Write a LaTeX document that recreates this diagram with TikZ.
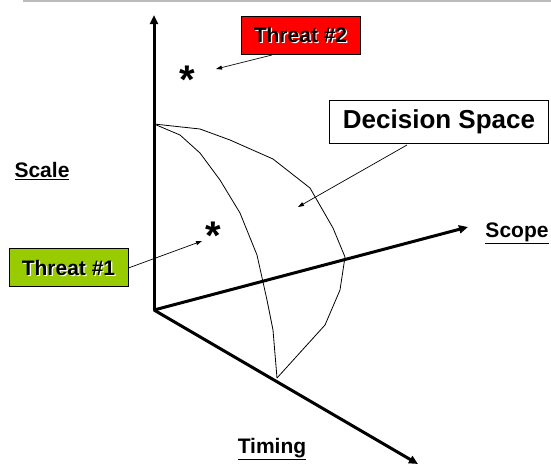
\documentclass[tikz,border=0pt]{standalone}
\usepackage{fontspec}
\setmainfont{Liberation Sans}
\usetikzlibrary{arrows.meta}
\definecolor{threatgreen}{HTML}{99CC00}
\definecolor{topgray}{HTML}{BBBBBB}
\begin{document}
\begin{tikzpicture}[x=1pt,y=-1pt,
  axis/.style={line width=3pt,-{Triangle[length=9pt,width=8pt]}},
  leader/.style={line width=0.7pt,-{Triangle[length=6pt,width=4pt]}},
  surf/.style={line width=0.8pt,line join=round},
  axlabel/.style={font=\fontsize{21}{24}\selectfont\bfseries,inner sep=0pt},
  threatbox/.style={draw=black,line width=0.8pt,minimum width=119pt,minimum height=38pt,inner sep=0pt},
  threattext/.style={font=\fontsize{21}{24}\selectfont\bfseries,inner sep=0pt},
  star/.style={font=\fontsize{40}{40}\selectfont\bfseries,inner sep=0pt}
]
\useasboundingbox (0,0) rectangle (551,466);
% top rule
\draw[topgray,line width=2pt] (23,1) -- (551,1);
% axes
\coordinate (O) at (154,310);
\coordinate (scaletip) at (154,15);
\coordinate (scopetip) at (468,227);
\coordinate (timingtip) at (418,464);
\draw[axis,line cap=round] (O) -- (scaletip);
\draw[axis] (O) -- (scopetip);
\draw[axis] (O) -- (timingtip);
% axis labels
\node[axlabel] (scale) at (42,171) {\underline{Scale}};
\node[axlabel] (scope) at (517,233) {\underline{Scope}};
\node[axlabel] (timing) at (272,449) {\underline{Timing}};
% decision surface
\draw[surf] (154,124) -- (200,129) -- (230,140) -- (273,159) -- (310,188) -- (333,228) -- (345,257) -- (340,290) -- (325,325) -- (277,378);
\draw[surf] (154,124) -- (180,135) -- (200,153) -- (220,180) -- (240,213) -- (257,255) -- (267,300) -- (273,330) -- (277,378);
% decision space label
\node[draw=black,line width=0.8pt,minimum width=219pt,minimum height=43pt,inner sep=0pt,font=\fontsize{26}{30}\selectfont\bfseries] (ds) at (439,121.5) {Decision Space};
\coordinate (dsin) at (298,207);
\draw[leader] (407,145) -- (dsin);
% threat 2
\node[threatbox,fill=red] (t2) at (300.5,35) {};
\node[threattext,white] at ([shift={(1.2,1.2)}]t2.center) {Threat \#2};
\node[threattext] (t2t) at (t2.center) {Threat \#2};
\node[star] (s2) at (187,80) {*};
\coordinate (s2in) at (216,69);
\draw[leader] (272,55) -- (s2in);
% threat 1
\node[threatbox,fill=threatgreen] (t1) at (68.5,267.5) {};
\node[threattext,white] at ([shift={(1.2,1.2)}]t1.center) {Threat \#1};
\node[threattext] (t1t) at (t1.center) {Threat \#1};
\node[star] (s1) at (213,236) {*};
\coordinate (s1in) at (202,241);
\draw[leader] (t1.east) ++(0,0.5) -- (s1in);
\end{tikzpicture}
\end{document}
